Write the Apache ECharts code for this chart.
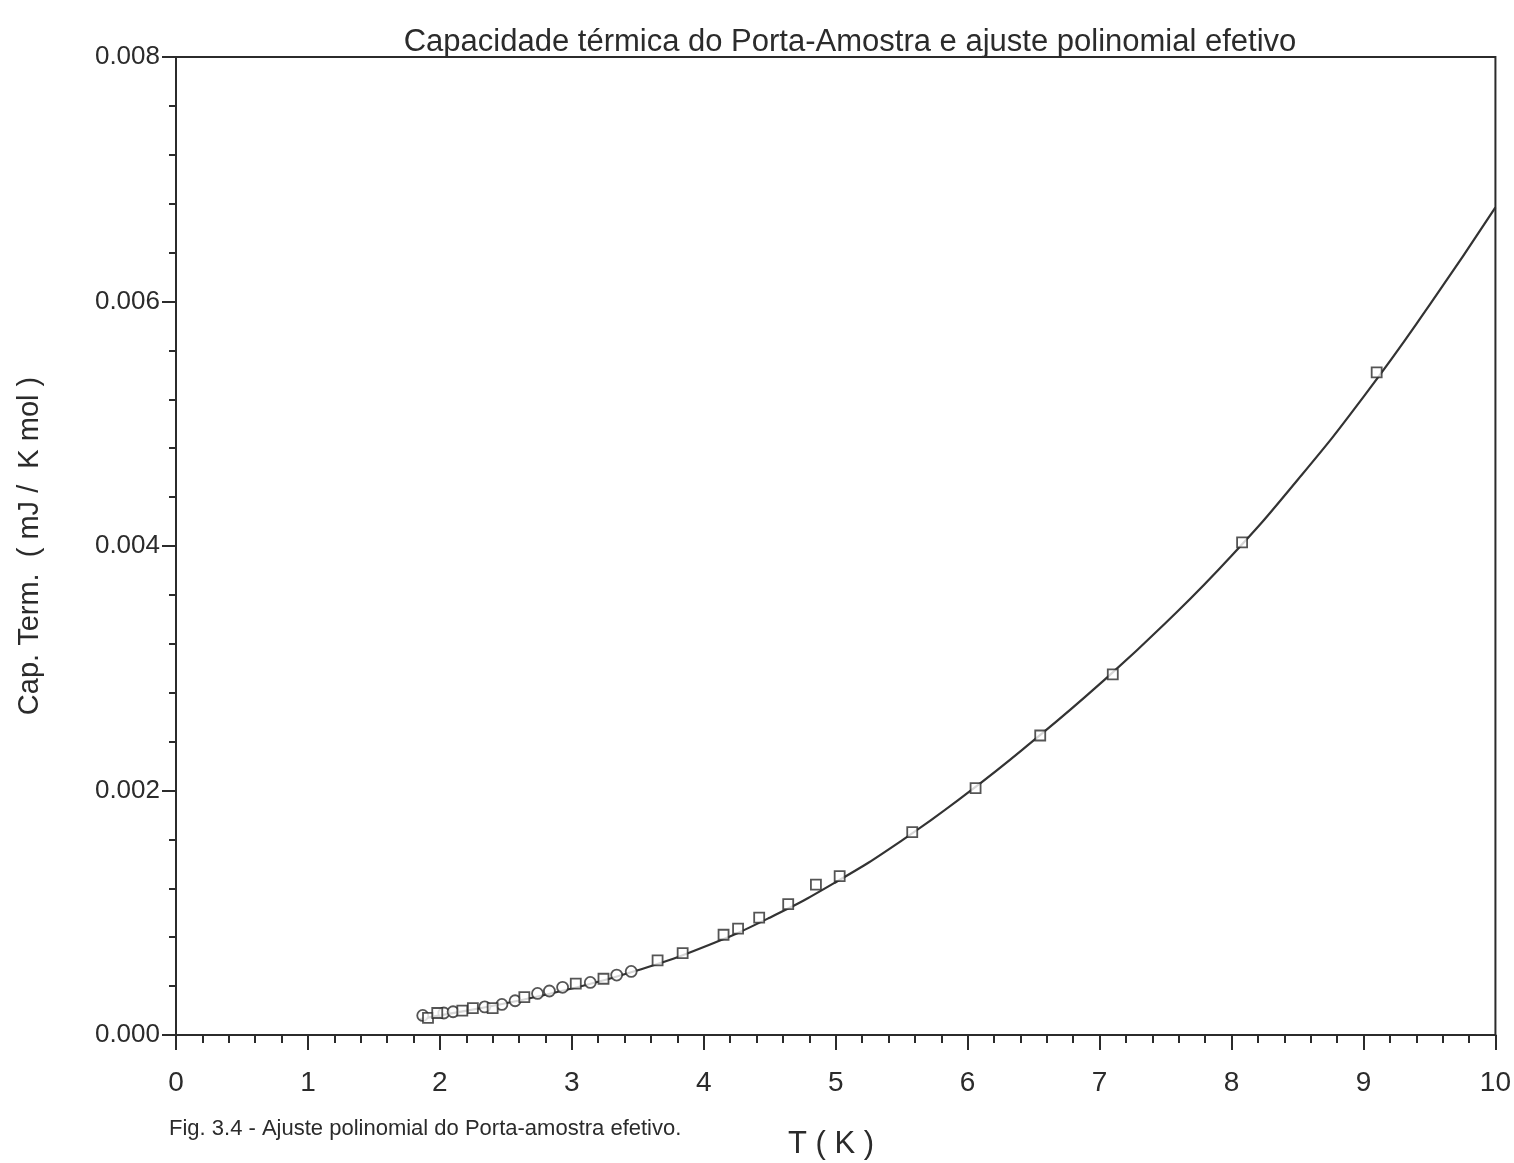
<!DOCTYPE html>
<html>
<head>
<meta charset="utf-8">
<script src="https://cdn.jsdelivr.net/npm/echarts@6/dist/echarts.min.js"></script>
<style>
html,body{margin:0;padding:0;background:#fff;}
#c{width:1514px;height:1163px;}
</style>
</head>
<body>
<div id="c"></div>
<script>
// Measured points (open circles): [T (K), C]
const circleT = [1.87, 2.03, 2.10, 2.34, 2.47, 2.57, 2.74, 2.83, 2.93, 3.14, 3.34, 3.45];
const circleC = [0.00016, 0.00018, 0.00019, 0.00023, 0.00025, 0.00028, 0.00034, 0.00036, 0.00039, 0.00043, 0.00049, 0.00052];
// Measured points (open squares)
const squareT = [1.91, 1.98, 2.17, 2.25, 2.40, 2.64, 3.03, 3.24, 3.65, 3.84, 4.15, 4.26, 4.42, 4.64, 4.85, 5.03, 5.58, 6.06, 6.55, 7.10, 8.08, 9.10];
const squareC = [0.00014, 0.00018, 0.00020, 0.00022, 0.00022, 0.00031, 0.00042, 0.00046, 0.00061, 0.00067, 0.00082, 0.00087, 0.00096, 0.00107, 0.00123, 0.00130, 0.00166, 0.00202, 0.00245, 0.00295, 0.00403, 0.00542];
// Polynomial fit curve
const fitT = [1.85, 2.0, 2.5, 3.0, 3.5, 4.0, 4.5, 5.0, 5.5, 6.0, 6.5, 7.0, 7.5, 8.0, 8.5, 9.0, 9.5, 10.0];
const fitC = [0.00013, 0.00016, 0.00026, 0.00038, 0.00053, 0.00072, 0.00096, 0.00125, 0.00159, 0.00198, 0.00241, 0.00287, 0.00337, 0.00392, 0.00454, 0.00522, 0.00597, 0.00677];
// Axis ticks
const xTicks = [0, 1, 2, 3, 4, 5, 6, 7, 8, 9, 10];
const yTicks = [0.000, 0.002, 0.004, 0.006, 0.008];

const titleText = 'Capacidade térmica do Porta-Amostra e ajuste polinomial efetivo';
const captionText = 'Fig. 3.4 - Ajuste polinomial do Porta-amostra efetivo.';
const xName = 'T ( K )';
const yName = 'Cap. Term.  ( mJ /  K mol )';

const zip = (a, b) => a.map((v, i) => [v, b[i]]);
const ink = '#2b2b2b';
const font = 'Liberation Sans, Arial, Helvetica, sans-serif';

const chart = echarts.init(document.getElementById('c'), null, {renderer: 'canvas'});
chart.setOption({
  backgroundColor: '#ffffff',
  animation: false,
  title: [{
    text: titleText,
    left: 845, top: 22, textAlign: 'center',
    textStyle: {fontFamily: font, fontSize: 31, fontWeight: 'normal', color: ink}
  }, {
    text: captionText,
    left: 164, top: 1113,
    textStyle: {fontFamily: font, fontSize: 22, fontWeight: 'normal', color: ink}
  }, {
    text: xName,
    left: 826, top: 1124, textAlign: 'center',
    textStyle: {fontFamily: font, fontSize: 31, fontWeight: 'normal', color: ink}
  }],
  grid: {
    left: 176, top: 57, width: 1322, height: 978,
    show: true, borderColor: ink, borderWidth: 2, backgroundColor: 'transparent'
  },
  xAxis: {
    type: 'value', min: xTicks[0], max: xTicks[xTicks.length - 1], interval: 1,
    axisLine: {show: true, lineStyle: {color: ink, width: 2}},
    axisTick: {show: true, inside: false, length: 15, lineStyle: {color: ink, width: 2}},
    minorTick: {show: true, splitNumber: 5, length: 8, lineStyle: {color: ink, width: 2}},
    axisLabel: {fontFamily: font, fontSize: 28, color: ink, margin: 34},
    splitLine: {show: false}, minorSplitLine: {show: false}
  },
  yAxis: {
    type: 'value', min: yTicks[0], max: yTicks[yTicks.length - 1], interval: 0.002,
    name: yName, nameLocation: 'middle', nameGap: 132, nameRotate: 90,
    nameTextStyle: {fontFamily: font, fontSize: 29, color: ink},
    axisLine: {show: true, lineStyle: {color: ink, width: 2}},
    axisTick: {show: true, inside: false, length: 14, lineStyle: {color: ink, width: 2}},
    minorTick: {show: true, splitNumber: 5, length: 7, lineStyle: {color: ink, width: 2}},
    axisLabel: {fontFamily: font, fontSize: 26, color: ink, margin: 16,
      formatter: v => v.toFixed(3)},
    splitLine: {show: false}, minorSplitLine: {show: false}
  },
  series: [{
    name: 'fit', type: 'line', data: zip(fitT, fitC), smooth: true,
    showSymbol: false, symbol: 'none',
    lineStyle: {color: '#333', width: 2.2}, z: 2
  }, {
    name: 'circles', type: 'scatter', data: zip(circleT, circleC),
    symbol: 'circle', symbolSize: 11,
    itemStyle: {color: '#fff', borderColor: ink, borderWidth: 1.8}, z: 3
  }, {
    name: 'squares', type: 'scatter', data: zip(squareT, squareC),
    symbol: 'rect', symbolSize: 10,
    itemStyle: {color: '#fff', borderColor: ink, borderWidth: 1.8}, z: 4
  }]
});
</script>
</body>
</html>
